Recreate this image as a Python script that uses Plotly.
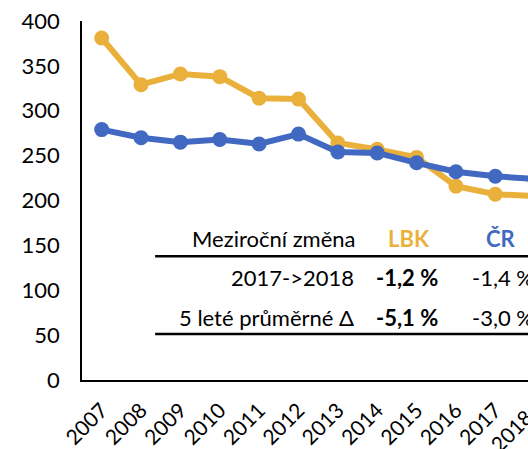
import plotly.graph_objects as go

years = ["2007", "2008", "2009", "2010", "2011", "2012", "2013", "2014", "2015", "2016", "2017", "2018"]
lbk = [381, 329, 341, 338, 314, 313, 264, 257, 248, 216, 207, 205]
cr = [279, 270, 265, 268, 263, 274, 254, 253, 242, 232, 227, 224]

table_header = ["Meziroční změna", "LBK", "ČR"]
row_labels = ["2017->2018", "5 leté průměrné Δ"]
lbk_changes = ["-1,2 %", "-5,1 %"]
cr_changes = ["-1,4 %", "-3,0 %"]

ORANGE = "#E9B13B"
BLUE = "#4169C1"
FONT = "Lato"

x_range = [-0.5, 10.83]

fig = go.Figure()
fig.add_trace(go.Scatter(x=years, y=lbk, mode="lines+markers", name="LBK",
                         line=dict(color=ORANGE, width=6),
                         marker=dict(color=ORANGE, size=15)))
fig.add_trace(go.Scatter(x=years, y=cr, mode="lines+markers", name="ČR",
                         line=dict(color=BLUE, width=6),
                         marker=dict(color=BLUE, size=15)))

fs = 22
anns = []
hy, r1, r2 = 0.393, 0.285, 0.175
anns.append(dict(x=0.619, y=hy, text=table_header[0], xanchor="right", font=dict(size=fs, color="black")))
anns.append(dict(x=0.733, y=hy, text="<b>%s</b>" % table_header[1], xanchor="center", font=dict(size=fs, color=ORANGE)))
anns.append(dict(x=0.939, y=hy, text="<b>%s</b>" % table_header[2], xanchor="center", font=dict(size=fs, color=BLUE)))
for yy, lab, a, b in zip([r1, r2], row_labels, lbk_changes, cr_changes):
    anns.append(dict(x=0.614, y=yy, text=lab, xanchor="right", font=dict(size=fs, color="black")))
    anns.append(dict(x=0.729, y=yy, text="<b>%s</b>" % a, xanchor="center", font=dict(size=fs, color="black")))
    anns.append(dict(x=0.870, y=yy, text=b, xanchor="left", font=dict(size=fs, color="black")))
for a in anns:
    a.update(xref="paper", yref="paper", yanchor="middle", showarrow=False)

# last tick label, lying beyond the visible edge
last_idx = len(years) - 1
anns.append(dict(x=(last_idx - x_range[0]) / (x_range[1] - x_range[0]) + 0.012, y=-0.06,
                 xref="paper", yref="paper", text=years[-1], textangle=-45,
                 xanchor="right", yanchor="top", showarrow=False,
                 font=dict(size=21, color="black")))

shapes = [
    dict(type="line", xref="paper", yref="paper", x0=0.164, x1=1.0, y0=0.345, y1=0.345,
         line=dict(color="black", width=2.5)),
    dict(type="line", xref="paper", yref="paper", x0=0.164, x1=1.0, y0=0.128, y1=0.128,
         line=dict(color="black", width=2.5)),
]

fig.update_layout(
    width=528, height=449,
    margin=dict(l=82, r=0, t=21, b=65),
    paper_bgcolor="white", plot_bgcolor="white",
    showlegend=False,
    font=dict(family=FONT, size=fs, color="black"),
    annotations=anns, shapes=shapes,
    xaxis=dict(type="category", range=x_range, showgrid=False, showline=True,
               linecolor="black", linewidth=1.5, tickangle=-45, ticks="",
               ticklabelstandoff=8, tickfont=dict(size=21)),
    yaxis=dict(range=[0, 400], dtick=50, showgrid=False, showline=True,
               linecolor="black", linewidth=1.5, ticks="", zeroline=False,
               ticklabelstandoff=16, tickfont=dict(size=fs)),
)

fig.write_html("out.html", config={"displayModeBar": False},
               post_script="document.body.style.margin='0';document.body.style.overflow='hidden';")
